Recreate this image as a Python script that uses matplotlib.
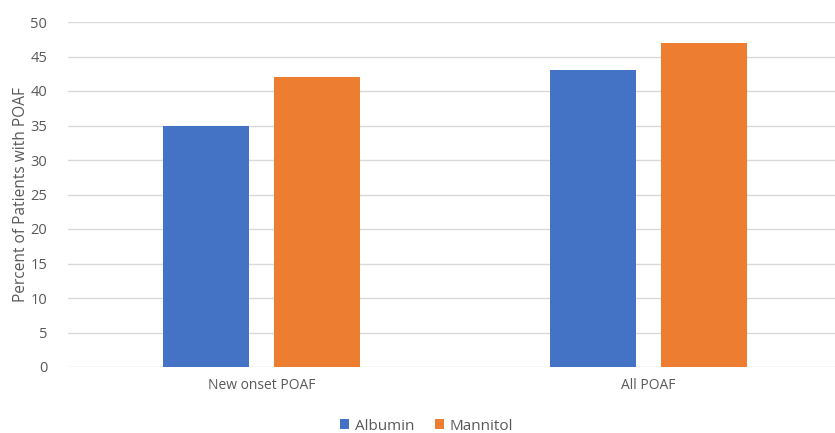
import numpy as np
import matplotlib.pyplot as plt

plt.rcParams['font.family'] = ['Open Sans', 'DejaVu Sans']

# POAF rates by group
categories = ['New onset POAF', 'All POAF']
albumin = [35, 43]
mannitol = [42, 47]

blue = '#4472c4'
orange = '#ed7d31'
text_color = '#595959'

fig = plt.figure(figsize=(8.35, 4.33), dpi=100)
ax = fig.add_axes([68 / 835, 66 / 433, 774 / 835, 345 / 433])

x = np.arange(len(categories))
width = 0.222
offset = 0.1425

ax.bar(x - offset, albumin, width, color=blue, label='Albumin', zorder=3)
ax.bar(x + offset, mannitol, width, color=orange, label='Mannitol', zorder=3)

ax.set_xlim(-0.5, 1.5)
ax.set_ylim(0, 50)
ax.set_yticks(range(0, 51, 5))
ax.set_xticks(x)
ax.set_xticklabels(categories)

ax.grid(axis='y', color='#d9d9d9', linewidth=1, zorder=0)
for s in ax.spines.values():
    s.set_visible(False)
ax.tick_params(length=0, colors=text_color)
ax.tick_params(axis='y', labelsize=10.5, pad=15)
ax.tick_params(axis='x', labelsize=10, pad=8)

ax.set_ylabel('Percent of Patients with POAF', fontsize=11.2, color=text_color, labelpad=1)

fig.legend(loc='center', bbox_to_anchor=(0.511, 0.016), ncol=2, frameon=False,
           fontsize=11, labelcolor=text_color, handlelength=0.6, handleheight=0.6,
           handletextpad=0.35, columnspacing=1.4)

fig.savefig('out.png', dpi=100)
